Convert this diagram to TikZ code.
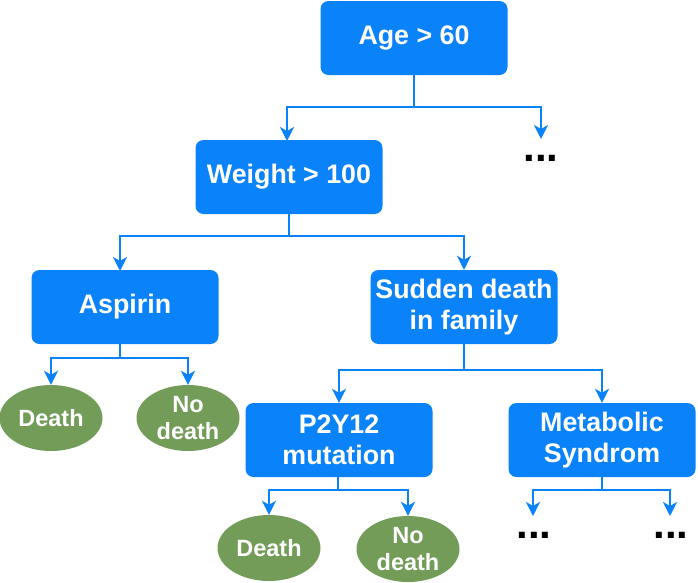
\documentclass[tikz,border=0pt]{standalone}
\usepackage{fontspec}
\setmainfont{Liberation Sans}
\definecolor{nodeblue}{RGB}{10,130,250}
\definecolor{leafgreen}{RGB}{114,156,88}
\usetikzlibrary{arrows.meta, shapes.geometric}

\begin{document}
\begin{tikzpicture}[x=1pt, y=1pt,
    testbox/.style={fill=nodeblue, rounded corners=8pt, minimum width=187pt, minimum height=74pt,
      text=white, align=center, font=\bfseries\fontsize{26.8}{31}\selectfont, inner sep=0pt},
    leaf/.style={ellipse, fill=leafgreen, minimum width=103pt, minimum height=66pt,
      text=white, align=center, font=\bfseries\fontsize{23.5}{27}\selectfont, inner sep=0pt},
    more/.style={font=\bfseries\fontsize{42}{42}\selectfont, inner sep=0pt},
    link/.style={draw=nodeblue, line width=2.5pt},
    branch/.style={link, -{Stealth[length=14pt, width=14pt, inset=4pt]}}]
    \useasboundingbox (0,0) rectangle (698,-582);
    % decision nodes
    \node[testbox] (age) at (414,-38) {Age > 60};
    \node[testbox] (weight) at (289,-177) {Weight > 100};
    \node[testbox] (aspirin) at (125,-307) {Aspirin};
    \node[testbox] (sudden) at (464,-307) {Sudden death\\in family};
    \node[testbox] (p2y) at (339,-440) {P2Y12\\mutation};
    \node[testbox] (metab) at (602,-440) {Metabolic\\Syndrom};
    % outcomes
    \node[leaf] (deathA) at (51,-418) {Death};
    \node[leaf] (nodeathA) at (188,-418) {No\\death};
    \node[leaf] (deathB) at (269,-548) {Death};
    \node[leaf] (nodeathB) at (408,-549) {No\\death};
    % open branches
    \coordinate (moreA) at (541,-139);
    \coordinate (moreB) at (533,-516);
    \coordinate (moreC) at (670,-516);
    \node[more] (dotsA) at (541,-158) {...};
    \node[more] (dotsB) at (534,-535) {...};
    \node[more] (dotsC) at (671,-535) {...};
    % splits
    \coordinate (ageS) at (414,-107);
    \coordinate (weightS) at (289,-236);
    \coordinate (aspirinS) at (120,-358);
    \coordinate (suddenS) at (464,-370);
    \coordinate (p2yS) at (338,-490);
    \coordinate (metabS) at (602,-490);
    \draw[link] (age.south) -- (ageS);
    \draw[branch] (ageS) -| (287,-141);
    \draw[branch] (ageS) -| (moreA);
    \draw[link] (weight.south) -- (weightS);
    \draw[branch] (weightS) -| (120,-271);
    \draw[branch] (weightS) -| (sudden.north);
    \draw[link] (aspirin.south -| aspirinS) -- (aspirinS);
    \draw[branch] (aspirinS) -| (deathA.north);
    \draw[branch] (aspirinS) -| (nodeathA.north);
    \draw[link] (sudden.south) -- (suddenS);
    \draw[branch] (suddenS) -| (p2y.north);
    \draw[branch] (suddenS) -| (metab.north);
    \draw[link] (p2y.south -| p2yS) -- (p2yS);
    \draw[branch] (p2yS) -| (deathB.north);
    \draw[branch] (p2yS) -| (nodeathB.north);
    \draw[link] (metab.south) -- (metabS);
    \draw[branch] (metabS) -| (moreB);
    \draw[branch] (metabS) -| (moreC);
\end{tikzpicture}
\end{document}
